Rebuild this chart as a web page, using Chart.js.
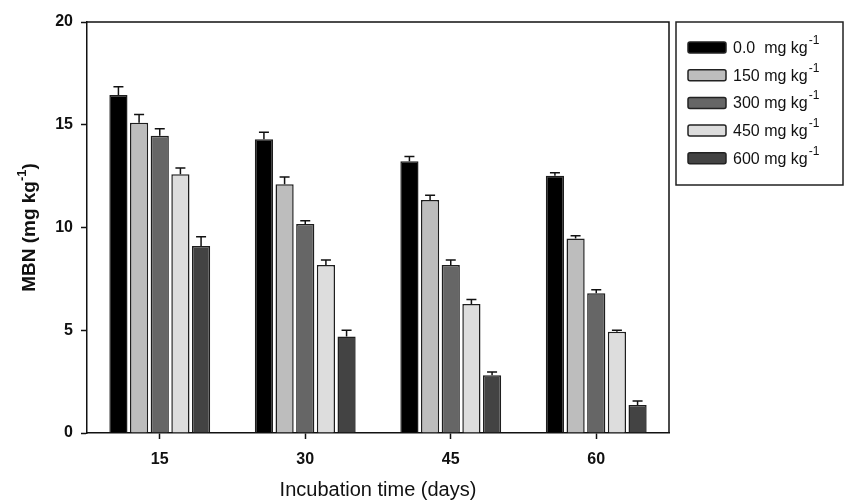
<!DOCTYPE html>
<html>
<head>
<meta charset="utf-8">
<script src="https://cdn.jsdelivr.net/npm/chart.js@4/dist/chart.umd.min.js"></script>
<style>
  html, body { margin: 0; padding: 0; background: #fff; }
</style>
</head>
<body>
<canvas id="chart" width="844" height="502"></canvas>
<script>
// incubation days on the x axis
const days = ['15', '30', '45', '60'];
// dose labels (superscript -1 drawn by the legend plugin)
const doseLabels = ['0.0  mg kg', '150 mg kg', '300 mg kg', '450 mg kg', '600 mg kg'];
const doseColors = ['#000000', '#bdbdbd', '#666666', '#dddddd', '#434343'];

// MBN means per dose, one value per incubation day
const mbn0 = [16.45, 14.3, 13.22, 12.52];
const mbn150 = [15.1, 12.1, 11.34, 9.46];
const mbn300 = [14.47, 10.17, 8.18, 6.8];
const mbn450 = [12.59, 8.18, 6.28, 4.93];
const mbn600 = [9.1, 4.7, 2.81, 1.36];

// standard error bars (upper half only is visible)
const err0 = [0.4, 0.33, 0.23, 0.15];
const err150 = [0.4, 0.36, 0.23, 0.14];
const err300 = [0.33, 0.16, 0.24, 0.17];
const err450 = [0.31, 0.24, 0.22, 0.07];
const err600 = [0.45, 0.3, 0.16, 0.2];

const yTicks = [0, 5, 10, 15, 20];

const seriesValues = [mbn0, mbn150, mbn300, mbn450, mbn600];
const seriesErrors = [err0, err150, err300, err450, err600];

const FONT = '"Liberation Sans", Arial, sans-serif';

// draws the upper error bars with caps
const errorBars = {
  id: 'errorBars',
  afterDatasetsDraw(chart) {
    const { ctx } = chart;
    const y = chart.scales.y;
    ctx.save();
    ctx.strokeStyle = '#111';
    ctx.lineWidth = 1.5;
    chart.data.datasets.forEach((ds, i) => {
      const meta = chart.getDatasetMeta(i);
      meta.data.forEach((bar, j) => {
        const top = y.getPixelForValue(ds.data[j] + ds.errors[j]);
        ctx.beginPath();
        ctx.moveTo(bar.x, bar.y);
        ctx.lineTo(bar.x, top);
        ctx.moveTo(bar.x - 5, top);
        ctx.lineTo(bar.x + 5, top);
        ctx.stroke();
      });
    });
    ctx.restore();
  }
};

// top/right frame, y title with superscript, boxed legend
const decorations = {
  id: 'decorations',
  afterDraw(chart) {
    const { ctx, chartArea: a } = chart;
    ctx.save();
    ctx.strokeStyle = '#111';
    ctx.lineWidth = 1.5;
    ctx.beginPath();
    ctx.moveTo(a.left, a.top);
    ctx.lineTo(a.right, a.top);
    ctx.lineTo(a.right, a.bottom);
    ctx.stroke();

    // y axis title
    ctx.save();
    ctx.translate(30, (a.top + a.bottom) / 2);
    ctx.rotate(-Math.PI / 2);
    ctx.fillStyle = '#111';
    ctx.textBaseline = 'middle';
    const main = 'MBN (mg kg';
    ctx.font = 'bold 19px ' + FONT;
    const wMain = ctx.measureText(main).width;
    ctx.font = 'bold 13px ' + FONT;
    const wSup = ctx.measureText('-1').width;
    ctx.font = 'bold 19px ' + FONT;
    const wClose = ctx.measureText(')').width;
    let x = -(wMain + wSup + wClose) / 2;
    ctx.textAlign = 'left';
    ctx.fillText(main, x, 0);
    x += wMain;
    ctx.font = 'bold 13px ' + FONT;
    ctx.fillText('-1', x, -8);
    x += wSup;
    ctx.font = 'bold 19px ' + FONT;
    ctx.fillText(')', x, 0);
    ctx.restore();

    // legend
    const lx = a.right + 7, ly = a.top, lw = 167, lh = 163;
    ctx.lineWidth = 1.5;
    ctx.strokeStyle = '#222';
    ctx.strokeRect(lx, ly, lw, lh);
    chart.data.datasets.forEach((ds, i) => {
      const cy = ly + 25.5 + i * 27.7;
      ctx.fillStyle = ds.backgroundColor;
      ctx.strokeStyle = '#222';
      ctx.lineWidth = 1.5;
      ctx.beginPath();
      ctx.roundRect(lx + 12, cy - 5.5, 38, 11, 2);
      ctx.fill();
      ctx.stroke();
      ctx.fillStyle = '#111';
      ctx.textBaseline = 'middle';
      ctx.textAlign = 'left';
      ctx.font = '16px ' + FONT;
      ctx.fillText(ds.label, lx + 57, cy + 1);
      const w = ctx.measureText(ds.label).width;
      ctx.font = '12px ' + FONT;
      ctx.fillText('-1', lx + 58 + w, cy - 7);
    });
    ctx.restore();
  }
};

new Chart(document.getElementById('chart'), {
  type: 'bar',
  data: {
    labels: days,
    datasets: doseLabels.map((label, i) => ({
      label,
      data: seriesValues[i],
      errors: seriesErrors[i],
      backgroundColor: doseColors[i],
      borderColor: '#1e1e1e',
      borderWidth: 1.5,
      categoryPercentage: 0.71,
      barPercentage: 0.88
    }))
  },
  options: {
    responsive: false,
    animation: false,
    layout: { padding: { left: 0, top: 22, right: 175, bottom: 0 } },
    plugins: {
      legend: { display: false },
      tooltip: { enabled: false }
    },
    scales: {
      x: {
        grid: { display: true, drawOnChartArea: false, offset: false, tickLength: 6, tickColor: '#111', tickWidth: 1.5 },
        border: { display: true, color: '#111', width: 1.5 },
        ticks: { color: '#111', font: { family: FONT, size: 16, weight: 'bold' }, padding: 11, maxRotation: 0 },
        title: { display: true, text: 'Incubation time (days)', color: '#111', font: { family: FONT, size: 20 }, padding: { top: 0, bottom: 0 } },
        afterFit(scale) { scale.height = 69; }
      },
      y: {
        min: 0,
        max: 20,
        afterBuildTicks(scale) { scale.ticks = yTicks.map(v => ({ value: v })); },
        grid: { display: true, drawOnChartArea: false, tickLength: 6, tickColor: '#111', tickWidth: 1.5 },
        border: { display: true, color: '#111', width: 1.5 },
        ticks: { color: '#111', font: { family: FONT, size: 16, weight: 'bold' }, padding: 8 },
        afterFit(scale) { scale.width = 87; }
      }
    }
  },
  plugins: [errorBars, decorations]
});
</script>
</body>
</html>
